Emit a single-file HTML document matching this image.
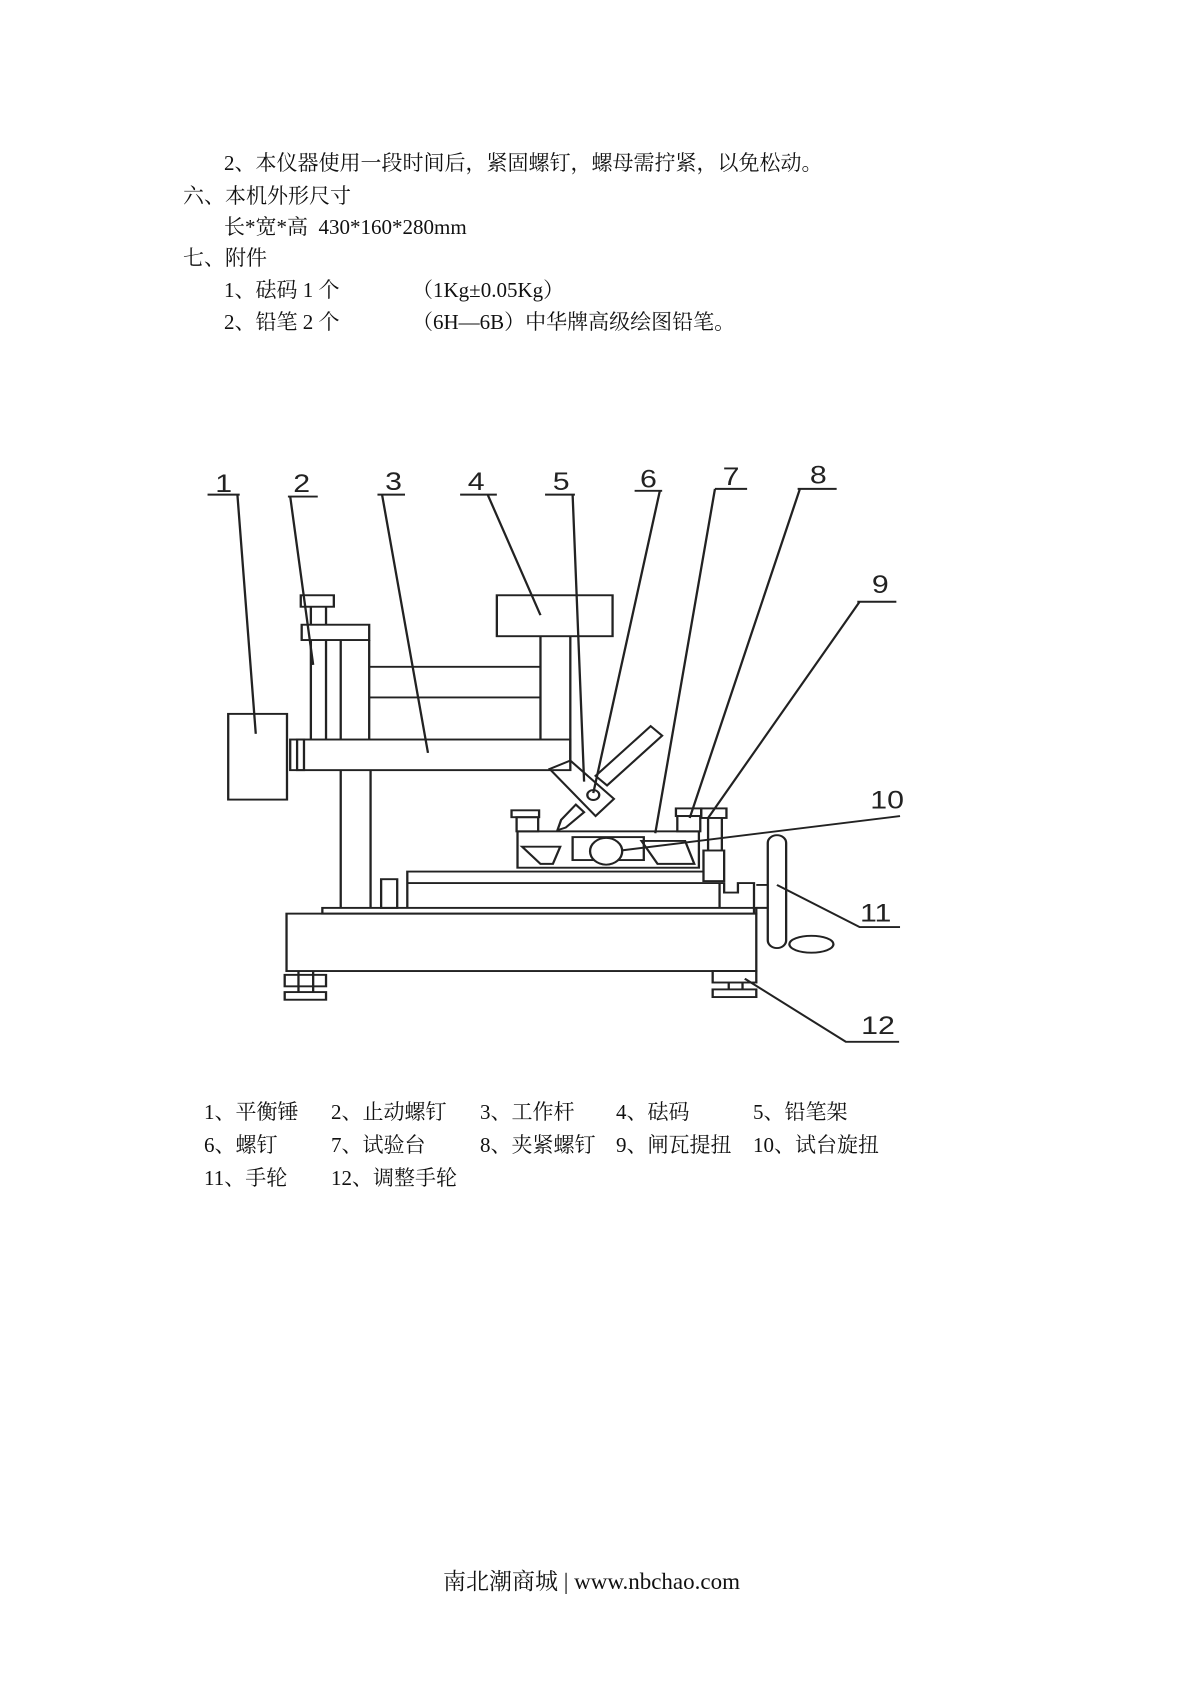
<!DOCTYPE html>
<html><head><meta charset="utf-8"><style>
body{margin:0;background:#fff;}
#p{position:relative;width:1200px;height:1697px;overflow:hidden;background:#fff;font-family:"Liberation Serif","Noto Serif CJK SC",serif;color:#111;}
.t{position:absolute;font-size:21px;line-height:24px;white-space:pre;}
</style></head><body><div id="p">
<div class="t" style="left:224px;top:151px">2、本仪器使用一段时间后，紧固螺钉，螺母需拧紧，以免松动。</div>
<div class="t" style="left:183px;top:184px">六、本机外形尺寸</div>
<div class="t" style="left:224px;top:215px">长*宽*高  430*160*280mm</div>
<div class="t" style="left:183px;top:246px">七、附件</div>
<div class="t" style="left:224px;top:278px">1、砝码 1 个</div>
<div class="t" style="left:412px;top:278px">（1Kg±0.05Kg）</div>
<div class="t" style="left:224px;top:310px">2、铅笔 2 个</div>
<div class="t" style="left:412px;top:310px">（6H—6B）中华牌高级绘图铅笔。</div>

<svg style="position:absolute;left:180px;top:420px" width="740" height="640" viewBox="0 0 1611.5 1672.5" preserveAspectRatio="none">
<g fill="none" stroke="#222" stroke-width="5">
<path d="M60 195H130M125 195L165 820"/>
<path d="M235 200H300M240 200L290 640"/>
<path d="M430 195H490M440 195L540 870"/>
<path d="M610 195H690M670 195L785 510"/>
<path d="M795 195H860M855 195L880 945"/>
<path d="M990 185H1050M1045 185L900 975"/>
<path d="M1165 180H1235M1165 180L1035 1080"/>
<path d="M1345 180H1430M1350 180L1110 1040"/>
<path d="M1475 475H1560M1480 475L1150 1040"/>
<path d="M1568 1035L960 1125"/>
<path d="M1300 1215L1480 1325H1568"/>
<path d="M1230 1460L1450 1625H1566"/>
<rect x="105" y="768" width="128" height="224"/>
<rect x="240" y="835" width="30" height="80"/>
<rect x="255" y="835" width="595" height="80"/>
<rect x="263" y="458" width="72" height="30"/>
<path d="M285 488V535M318 488V535"/>
<rect x="265" y="535" width="147" height="40"/>
<path d="M285 575V835M318 575V835M350 575V835M412 575V835"/>
<path d="M350 915V1275M415 915V1275"/>
<path d="M412 645H785M412 725H785"/>
<rect x="690" y="458" width="252" height="107"/>
<path d="M785 565V835M850 565V890"/>
<polygon points="850,890 945,990 905,1035 805,912"/>
<circle cx="900" cy="980" r="13"/>
<polygon points="1025,800 1050,825 930,955 905,930"/>
<polygon points="862,1005 880,1025 840,1065 822,1072 830,1045"/>
<rect x="735" y="1075" width="395" height="95"/>
<rect x="855" y="1090" width="155" height="60"/>
<circle cx="928" cy="1127" r="35" fill="#fff"/>
<polygon points="745,1115 828,1115 812,1160 785,1160"/>
<polygon points="1005,1100 1100,1100 1120,1160 1040,1160"/>
<rect x="722" y="1020" width="60" height="18"/>
<rect x="733" y="1038" width="47" height="37"/>
<rect x="1080" y="1015" width="55" height="20"/>
<rect x="1083" y="1035" width="50" height="40"/>
<rect x="1135" y="1015" width="55" height="25"/>
<path d="M1150 1040V1125M1180 1040V1125"/>
<rect x="1140" y="1125" width="45" height="80"/>
<path d="M495 1275V1180H1140"/>
<path d="M495 1210H1185V1235H1215V1210H1250V1290"/>
<path d="M1175 1210V1275"/>
<rect x="438" y="1200" width="35" height="75"/>
<rect x="310" y="1275" width="945" height="15"/>
<rect x="232" y="1290" width="1023" height="150"/>
<path d="M1255 1215H1280M1255 1275H1280"/>
<rect x="1280" y="1085" width="40" height="295" rx="20"/>
<ellipse cx="1375" cy="1370" rx="48" ry="22"/>
<rect x="228" y="1450" width="90" height="30"/>
<path d="M258 1440V1495M290 1440V1495"/>
<rect x="228" y="1495" width="90" height="20"/>
<rect x="1160" y="1440" width="95" height="30"/>
<path d="M1195 1470V1488M1225 1470V1488"/>
<rect x="1160" y="1488" width="95" height="20"/>
</g>
<g font-family="Liberation Sans, sans-serif" font-size="66" fill="#222" text-anchor="middle">
<text x="95" y="188">1</text><text x="265" y="188">2</text><text x="465" y="183">3</text>
<text x="645" y="183">4</text><text x="830" y="183">5</text><text x="1020" y="176">6</text>
<text x="1200" y="170">7</text><text x="1390" y="166">8</text><text x="1525" y="452">9</text>
<text x="1540" y="1015">10</text><text x="1515" y="1310">11</text><text x="1520" y="1605">12</text>
</g>
</svg>

<div class="t" style="left:204px;top:1100px">1、平衡锤</div>
<div class="t" style="left:331px;top:1100px">2、止动螺钉</div>
<div class="t" style="left:480px;top:1100px">3、工作杆</div>
<div class="t" style="left:616px;top:1100px">4、砝码</div>
<div class="t" style="left:753px;top:1100px">5、铅笔架</div>
<div class="t" style="left:204px;top:1133px">6、螺钉</div>
<div class="t" style="left:331px;top:1133px">7、试验台</div>
<div class="t" style="left:480px;top:1133px">8、夹紧螺钉</div>
<div class="t" style="left:616px;top:1133px">9、闸瓦提扭</div>
<div class="t" style="left:753px;top:1133px">10、试台旋扭</div>
<div class="t" style="left:204px;top:1166px">11、手轮</div>
<div class="t" style="left:331px;top:1166px">12、调整手轮</div>

<div class="t" style="left:443px;top:1570px;font-size:23px">南北潮商城 | www.nbchao.com</div>
</div></body></html>
